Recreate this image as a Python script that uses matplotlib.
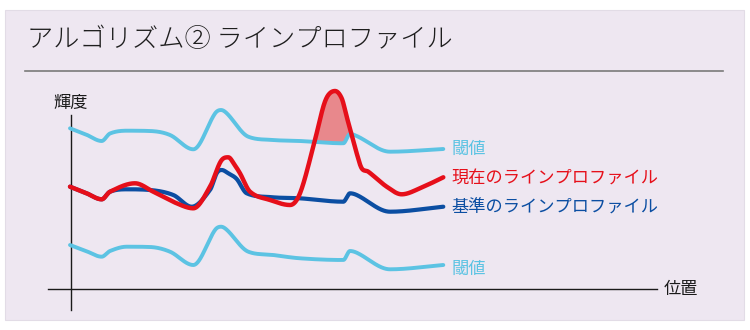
import numpy as np
import matplotlib
matplotlib.use("Agg")
import matplotlib.pyplot as plt
from matplotlib.patches import Rectangle

plt.rcParams['font.family'] = ['Noto Sans CJK JP', 'DejaVu Sans']

# Line profile samples: position along the line vs. brightness
ref_pos = [0, 16, 31.7, 40, 56.7, 80, 103.3, 121.7, 140, 146.7, 151.7, 158.3, 166.7,
           176.7, 203, 230, 273.3, 280, 286.7, 320, 373.3]
ref_val = [102.3, 96, 89.7, 97.3, 99.7, 99, 94, 82.3, 99, 115.7, 119, 115.7, 110,
           95.7, 91.7, 90.7, 87.3, 95.7, 94, 77.3, 82.3]

upper_pos = [0, 16, 31.7, 40, 56.7, 80, 100, 123.3, 145, 151, 157, 178.3, 203, 230,
             273.3, 280, 286.7, 320, 373.3]
upper_val = [160.7, 154.5, 148, 155.5, 158.3, 158, 154, 139.7, 175.5, 179, 175.5,
             152.3, 149, 148, 145.7, 155, 153, 137.3, 140]

lower_pos = [0, 16, 31.7, 40, 56.7, 80, 100, 123.3, 145, 151, 157, 178.3, 203.3,
             230, 273.3, 280, 286.7, 320, 373.3]
lower_val = [44, 38, 32.3, 38, 42.3, 42, 37.3, 24, 59, 62.3, 59, 37.3, 34, 30.7,
             29, 38, 36.3, 19.7, 24]

cur_pos = [0, 16, 31.7, 40, 65, 83.3, 106.7, 123.3, 140, 151.7, 158.3, 165, 170,
           180, 200, 220, 230, 243.3, 253.3, 258.3, 265, 271.7, 276.7, 286.7, 291.7,
           298.3, 316.7, 331.7, 350, 373.3]
cur_val = [102.3, 96, 89.7, 97.3, 105.7, 97.3, 85.7, 80.7, 102.3, 129, 131.7,
           123.5, 115.7, 97.3, 89, 84, 95.7, 142.3, 182.3, 194, 198, 190.7, 172.3,
           135.7, 120.7, 117.3, 102.3, 94.7, 100.7, 111.7]

labels = {
    'upper': '閾値',
    'current': '現在のラインプロファイル',
    'reference': '基準のラインプロファイル',
    'lower': '閾値',
}
title = 'アルゴリズム② ラインプロファイル'
y_label = '輝度'
x_label = '位置'

C_THR = '#5CC3E3'
C_CUR = '#E60F1A'
C_REF = '#0B4EA2'
C_FILL = '#E8888C'
BG = '#EEE7F1'


def smooth(x, y, xs):
    """Cubic Hermite curve with centred tangents, flattened at extrema
    and limited so that monotone stretches stay monotone."""
    x = np.asarray(x, float)
    y = np.asarray(y, float)
    h = np.diff(x)
    d = np.diff(y) / h
    n = len(x)
    m = np.zeros(n)
    for k in range(1, n - 1):
        if d[k - 1] * d[k] <= 0:
            m[k] = 0.0
        else:
            c = (y[k + 1] - y[k - 1]) / (x[k + 1] - x[k - 1])
            lim = 3 * min(abs(d[k - 1]), abs(d[k]))
            m[k] = np.sign(c) * min(abs(c), lim)
    m[0] = d[0]
    m[-1] = d[-1]
    idx = np.clip(np.searchsorted(x, xs) - 1, 0, n - 2)
    t = (xs - x[idx]) / h[idx]
    h00 = 2 * t**3 - 3 * t**2 + 1
    h10 = t**3 - 2 * t**2 + t
    h01 = -2 * t**3 + 3 * t**2
    h11 = t**3 - t**2
    return (h00 * y[idx] + h10 * h[idx] * m[idx]
            + h01 * y[idx + 1] + h11 * h[idx] * m[idx + 1])


W, H = 750, 330
fig = plt.figure(figsize=(7.5, 3.3), dpi=100)
fig.patch.set_facecolor('white')


def fx(px):
    return px / W


def fy(py):
    return 1 - py / H


# background panel, title and separator
fig.patches.append(Rectangle((fx(5), fy(320)), fx(744) - fx(5), fy(10) - fy(320),
                             transform=fig.transFigure, facecolor=BG,
                             edgecolor='#E2DCE6', linewidth=0.8, zorder=-5))
fig.text(fx(27), fy(40), title, fontsize=18.9, color='#1E1E1E',
         ha='left', va='center', fontweight='light')
fig.add_artist(plt.Line2D([fx(25), fx(723)], [fy(71), fy(71)],
                          transform=fig.transFigure, color='#7A7A7A', lw=1.2))

ax = fig.add_axes([0, 0, 1, 1])
ax.set_zorder(2)
ax.set_xlim(-70, 680)
ax.set_ylim(-41, 289)
ax.axis('off')
ax.patch.set_alpha(0)

# axes lines
ax.plot([-22, 587], [0, 0], color='#1A1A1A', lw=1.0, zorder=1)
ax.plot([0.7, 0.7], [-21, 174], color='#1A1A1A', lw=1.0, zorder=1)

xs = np.linspace(0, 373.3, 2500)
ref_s = smooth(ref_pos, ref_val, xs)
up_s = smooth(upper_pos, upper_val, xs)
lo_s = smooth(lower_pos, lower_val, xs)
cur_s = smooth(cur_pos, cur_val, xs)

ax.fill_between(xs, up_s, cur_s, where=cur_s > up_s, interpolate=True,
                color=C_FILL, lw=0, zorder=2)

kw = dict(solid_capstyle='round', solid_joinstyle='round')
ax.plot(xs, up_s, color=C_THR, lw=2.8, zorder=3, **kw)
ax.plot(xs, lo_s, color=C_THR, lw=2.8, zorder=3, **kw)
ax.plot(xs, ref_s, color=C_REF, lw=3.0, zorder=4, **kw)
ax.plot(xs, cur_s, color=C_CUR, lw=3.2, zorder=5, **kw)

# labels
fs = 12.4
fig.text(fx(451), fy(148.5), labels['upper'], color=C_THR, fontsize=fs, ha='left', va='center')
fig.text(fx(451), fy(178.5), labels['current'], color=C_CUR, fontsize=fs, ha='left', va='center')
fig.text(fx(451), fy(207.5), labels['reference'], color=C_REF, fontsize=fs, ha='left', va='center')
fig.text(fx(451), fy(268.5), labels['lower'], color=C_THR, fontsize=fs, ha='left', va='center')
fig.text(fx(53), fy(103), y_label, color='#1A1A1A', fontsize=fs, ha='left', va='center')
fig.text(fx(664), fy(289), x_label, color='#1A1A1A', fontsize=fs, ha='left', va='center')

fig.savefig('out.png', dpi=100, facecolor='white')
